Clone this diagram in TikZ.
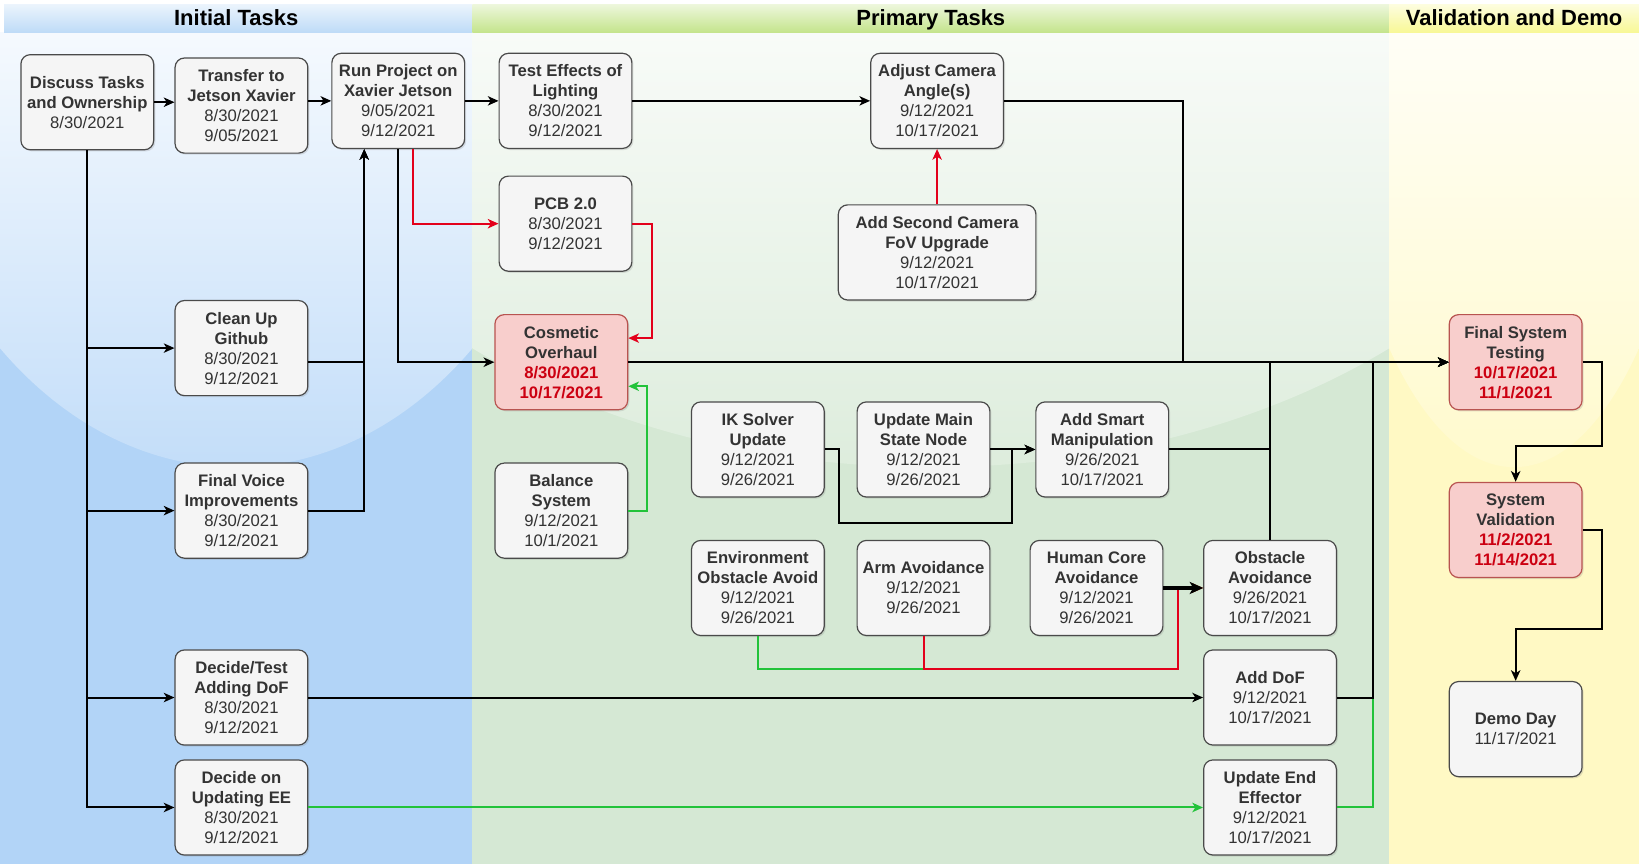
\documentclass[tikz,border=0pt]{standalone}
\usepackage{fontspec}
\setmainfont{Liberation Sans}
\usetikzlibrary{arrows.meta,shadows,calc}

\definecolor{boxfill}{HTML}{F5F5F5}
\definecolor{boxline}{HTML}{4A4A4A}
\definecolor{boxtext}{HTML}{333333}
\definecolor{redfill}{HTML}{F8CECC}
\definecolor{redline}{HTML}{B85450}
\definecolor{datered}{HTML}{CC0011}
\definecolor{edgered}{HTML}{E3001B}
\definecolor{edgegreen}{HTML}{22C33A}
\definecolor{blueL}{RGB}{178,212,247}
\definecolor{greenL}{RGB}{213,232,212}
\definecolor{yellowL}{RGB}{255,249,196}
\definecolor{blueH}{RGB}{190,219,247}
\definecolor{greenH}{RGB}{196,228,140}
\definecolor{yellowH}{RGB}{248,248,150}

\newcommand\ttl[1]{\textbf{#1}}
\newcommand\rdt[1]{\textcolor{datered}{\textbf{#1}}}

\begin{document}
\begin{tikzpicture}[x=0.784pt,y=-0.784pt,
  task/.style={draw=boxline, fill=boxfill, text=boxtext, rounded corners=7pt,
    line width=0.9pt, align=center, inner sep=0pt,
    font=\fontsize{12.5}{15}\selectfont,
    minimum width=127*0.784pt, minimum height=91*0.784pt,
    drop shadow={shadow xshift=1.2pt,shadow yshift=-1.2pt,opacity=0.22}},
  redtask/.style={task, draw=redline, fill=redfill},
  widetask/.style={task, minimum width=189*0.784pt},
  lanehead/.style={font=\fontsize{16.5}{20}\selectfont\bfseries, text=black, inner sep=0pt, anchor=base},
  conn/.style={draw=black, line width=1.5pt, -{Stealth[length=8pt,width=7pt,inset=2.2pt]}},
  thickconn/.style={draw=black, line width=2.4pt, -{Stealth[length=10pt,width=9pt,inset=2.6pt]}},
  redconn/.style={conn, draw=edgered, -{Stealth[length=8pt,width=7pt,inset=2.2pt,fill=edgered]}},
  greenconn/.style={conn, draw=edgegreen, -{Stealth[length=8pt,width=7pt,inset=2.2pt,fill=edgegreen]}},
]
\useasboundingbox (0,0) rectangle (1568,827);
\fill[white] (0,0) rectangle (1568,827);

% ---------- lanes ----------
% blue
\fill[blueL] (0,31) rectangle (452,827);
\begin{scope}
  \clip (0,31) rectangle (452,827);
  \shade[top color=white, bottom color=blueL!78!white, middle color=blueL!8!white]
    (226,0) ellipse [x radius=265.8pt, y radius=350.4pt];
\end{scope}
\shade[top color=blueH!30!white, bottom color=blueH] (4,4) rectangle (452,31);
% green
\fill[greenL] (452,31) rectangle (1329,827);
\begin{scope}
  \clip (452,31) rectangle (1329,827);
  \shade[top color=white, bottom color=greenL!80!white, middle color=greenL!12!white]
    (890.5,0) ellipse [x radius=515.9pt, y radius=350.4pt];
\end{scope}
\shade[top color=greenH!30!white, bottom color=greenH] (452,4) rectangle (1329,31);
% yellow
\fill[yellowL] (1329,31) rectangle (1568,827);
\begin{scope}
  \clip (1329,31) rectangle (1568,827);
  \shade[top color=white, bottom color=yellowL!85!white, middle color=yellowL!10!white]
    (1448.5,0) ellipse [x radius=140.5pt, y radius=350.4pt];
\end{scope}
\shade[top color=yellowH!30!white, bottom color=yellowH] (1329,4) rectangle (1568,31);

\node[lanehead] (h1) at (226,24) {Initial Tasks};
\node[lanehead] (h2) at (890.5,24) {Primary Tasks};
\node[lanehead] (h3) at (1448.5,24) {Validation and Demo};

% ---------- tasks ----------
\node[task] (Discuss) at (83.5,97.8) {\ttl{Discuss Tasks}\\\ttl{and Ownership}\\8/30/2021};
\node[task] (Transfer) at (231,101) {\ttl{Transfer to}\\\ttl{Jetson Xavier}\\8/30/2021\\9/05/2021};
\node[task] (Run) at (381,96.5) {\ttl{Run Project on}\\\ttl{Xavier Jetson}\\9/05/2021\\9/12/2021};
\node[task] (Test) at (541,96.5) {\ttl{Test Effects of}\\\ttl{Lighting}\\8/30/2021\\9/12/2021};
\node[task] (Adjust) at (896.5,96.5) {\ttl{Adjust Camera}\\\ttl{Angle(s)}\\9/12/2021\\10/17/2021};
\node[widetask] (AddSecond) at (896.5,241.5) {\ttl{Add Second Camera}\\\ttl{FoV Upgrade}\\9/12/2021\\10/17/2021};
\node[task] (PCB) at (541,214) {\ttl{PCB 2.0}\\8/30/2021\\9/12/2021};
\node[redtask] (Cosmetic) at (537,346.5) {\ttl{Cosmetic}\\\ttl{Overhaul}\\\rdt{8/30/2021}\\\rdt{10/17/2021}};
\node[task] (CleanUp) at (231,333) {\ttl{Clean Up}\\\ttl{Github}\\8/30/2021\\9/12/2021};
\node[task] (FinalVoice) at (231,488.5) {\ttl{Final Voice}\\\ttl{Improvements}\\8/30/2021\\9/12/2021};
\node[task] (Balance) at (537,488.5) {\ttl{Balance}\\\ttl{System}\\9/12/2021\\10/1/2021};
\node[task] (IK) at (725,430) {\ttl{IK Solver}\\\ttl{Update}\\9/12/2021\\9/26/2021};
\node[task] (UpdMain) at (883.5,430) {\ttl{Update Main}\\\ttl{State Node}\\9/12/2021\\9/26/2021};
\node[task] (AddSmart) at (1054.5,430) {\ttl{Add Smart}\\\ttl{Manipulation}\\9/26/2021\\10/17/2021};
\node[task] (Env) at (725,562.5) {\ttl{Environment}\\\ttl{Obstacle Avoid}\\9/12/2021\\9/26/2021};
\node[task] (Arm) at (883.5,562.5) {\ttl{Arm Avoidance}\\9/12/2021\\9/26/2021};
\node[task] (HumanCore) at (1049,562.5) {\ttl{Human Core}\\\ttl{Avoidance}\\9/12/2021\\9/26/2021};
\node[task] (Obstacle) at (1215,562.5) {\ttl{Obstacle}\\\ttl{Avoidance}\\9/26/2021\\10/17/2021};
\node[task] (DecideTest) at (231,667.3) {\ttl{Decide/Test}\\\ttl{Adding DoF}\\8/30/2021\\9/12/2021};
\node[task] (AddDoF) at (1215,667.3) {\ttl{Add DoF}\\9/12/2021\\10/17/2021};
\node[task] (DecideOn) at (231,772.5) {\ttl{Decide on}\\\ttl{Updating EE}\\8/30/2021\\9/12/2021};
\node[task] (UEE) at (1215,772.5) {\ttl{Update End}\\\ttl{Effector}\\9/12/2021\\10/17/2021};
\node[redtask] (FST) at (1450,346.5) {\ttl{Final System}\\\ttl{Testing}\\\rdt{10/17/2021}\\\rdt{11/1/2021}};
\node[redtask] (SV) at (1450,507) {\ttl{System}\\\ttl{Validation}\\\rdt{11/2/2021}\\\rdt{11/14/2021}};
\node[task] (Demo) at (1450,697.5) {\ttl{Demo Day}\\11/17/2021};

% ---------- helper coordinates ----------
\coordinate (runin) at ($(Run.south west)!0.246!(Run.south east)$);
\coordinate (runred) at ($(Run.south west)!0.613!(Run.south east)$);
\coordinate (cosR1) at ($(Cosmetic.north east)!0.25!(Cosmetic.south east)$);
\coordinate (cosR3) at ($(Cosmetic.north east)!0.75!(Cosmetic.south east)$);
\coordinate (j1) at (1131.8,346.5);
\coordinate (j2) at (Obstacle.north |- FST.west);
\coordinate (j3) at (1313.1,346.5);
\coordinate (lp1) at (803,500);
\coordinate (lp2) at (968.3,500);
\coordinate (lp3) at (1127.2,640.3);
\coordinate (sv1) at (1532.5,427);
\coordinate (sv2) at (1532.5,602);

% ---------- coloured connectors (under) ----------
\draw[greenconn] (UEE.east) -| (j3) -- (FST.west);
\draw[greenconn] (DecideOn.east) -- (UEE.west);
\draw[greenconn] (Env.south) |- (lp3) |- (Obstacle.west);
\draw[redconn] (Arm.south) |- (lp3) |- (Obstacle.west);
\draw[greenconn] (Balance.east) -| ($(cosR3)+(17.5,0)$) -- (cosR3);
\draw[redconn] (runred) |- (PCB.west);
\draw[redconn] (PCB.east) -| ($(cosR1)+(22.4,0)$) -- (cosR1);
\draw[redconn] (AddSecond.north) -- (Adjust.south);

% ---------- black connectors ----------
\draw[conn] (Discuss.east) -- (Discuss.east -| Transfer.west);
\draw[conn] (Transfer.east |- Run.west) -- (Run.west);
\draw[conn] (Run.east) -- (Test.west);
\draw[conn] (Test.east) -- (Adjust.west);
\draw[conn] (Adjust.east) -| (j1) -- (FST.west);
\draw[conn] (Run.south) |- (Cosmetic.west);
\draw[conn] (Cosmetic.east) -- (FST.west);
\draw[conn] (Discuss.south) |- (CleanUp.west);
\draw[conn] (Discuss.south) |- (FinalVoice.west);
\draw[conn] (Discuss.south) |- (DecideTest.west);
\draw[conn] (Discuss.south) |- (DecideOn.west);
\draw[conn] (CleanUp.east |- Cosmetic.west) -| (runin);
\draw[conn] (FinalVoice.east) -| (runin);
\draw[conn] (DecideTest.east) -- (AddDoF.west);
\draw[conn] (AddDoF.east) -| (j3) -- (FST.west);
\draw[conn] (AddSmart.east) -| (j2) -- (FST.west);
\draw[conn] (Obstacle.north) -- (j2) -- (FST.west);
\draw[conn] (IK.east) -| (lp1) -- (lp2) |- (AddSmart.west);
\draw[conn] (UpdMain.east) -- (AddSmart.west);
\draw[thickconn] (HumanCore.east) -- (Obstacle.west);
\draw[conn] (FST.east) -| (sv1) -| (SV.north);
\draw[conn] (SV.east) -| (sv2) -| (Demo.north);
\end{tikzpicture}
\end{document}
